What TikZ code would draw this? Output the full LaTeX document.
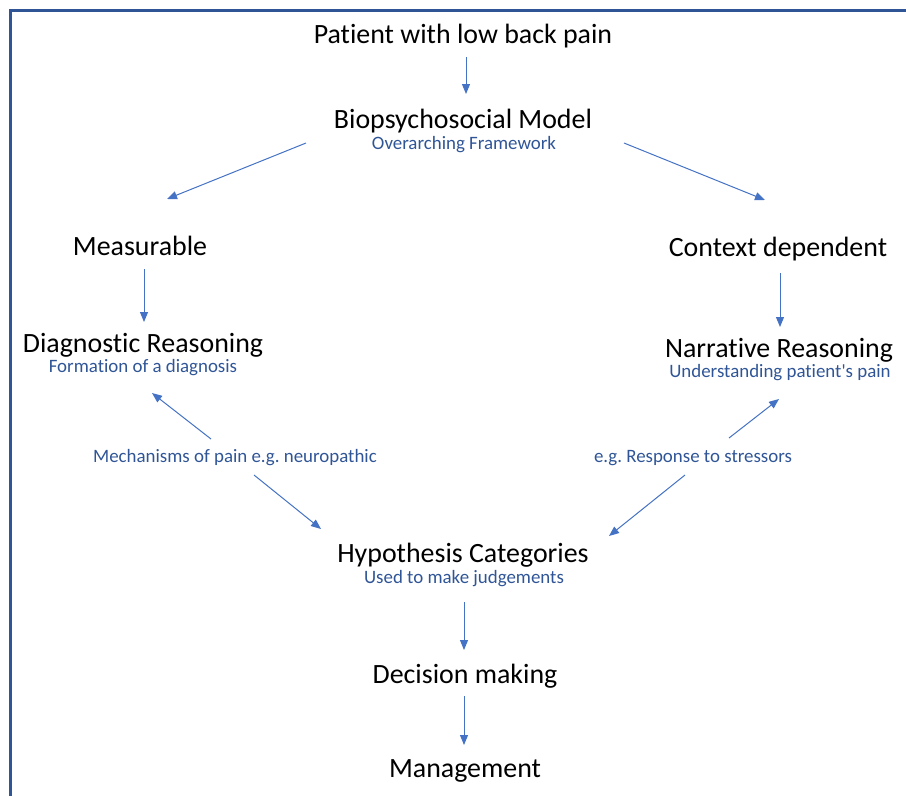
\documentclass[tikz,border=0pt]{standalone}
\usepackage{fontspec}
\newfontfamily\calib{Carlito}[Ligatures={NoCommon,NoRare}]
\usepackage{xcolor}
\usepackage{tikz}
\usetikzlibrary{arrows.meta}
\definecolor{frameblue}{RGB}{47, 85, 151}
\definecolor{subblue}{RGB}{47, 85, 151}
\definecolor{arrowblue}{RGB}{68, 114, 196}

\begin{document}
\begin{tikzpicture}[x=1pt, y=-1pt,
  mainlbl/.style={inner sep=0pt, anchor=base, font=\calib\fontsize{27.9}{33}\selectfont},
  sublbl/.style={inner sep=0pt, anchor=base, text=subblue, font=\calib\fontsize{18.9}{22}\selectfont},
  arr/.style={arrowblue, line width=1pt, -{Triangle[length=10pt,width=8pt]}}]
\useasboundingbox (0,0) rectangle (906,796);
\draw[frameblue, line width=3pt] (10.5,796) -- (10.5,10.5) -- (906,10.5);
% main labels
\node[mainlbl] (pat) at (463,43) {Patient with low back pain};
\node[mainlbl] (bps) at (463,128) {Biopsychosocial Model};
\node[sublbl] (over) at (464,149) {Overarching Framework};
\node[mainlbl] (meas) at (140,255) {Measurable};
\node[mainlbl] (ctx) at (778,256) {Context dependent};
\node[mainlbl] (diag) at (143,352) {Diagnostic Reasoning};
\node[sublbl] (form) at (143,372) {Formation of a diagnosis};
\node[mainlbl] (narr) at (779,357) {Narrative Reasoning};
\node[sublbl] (und) at (780,377) {Understanding patient's pain};
\node[sublbl] (mech) at (235,462) {Mechanisms of pain e.g.\ neuropathic};
\node[sublbl] (resp) at (693,462) {e.g.\ Response to stressors};
\node[mainlbl] (hyp) at (463,562) {Hypothesis Categories};
\node[sublbl] (used) at (464,583) {Used to make judgements};
\node[mainlbl] (dec) at (465,683) {Decision making};
\node[mainlbl] (mgmt) at (465,777) {Management};
% arrows
\draw[arr] ([shift={(3,14)}]pat.base) -- ([shift={(3,-34)}]bps.base);
\draw[arr] ([shift={(-157,15)}]bps.base) -- ([shift={(27,-56)}]meas.base);
\draw[arr] ([shift={(161,15)}]bps.base) -- ([shift={(-13,-56)}]ctx.base);
\draw[arr] ([shift={(4,14)}]meas.base) -- ([shift={(1,-30)}]diag.base);
\draw[arr] ([shift={(2,17)}]ctx.base) -- ([shift={(1,-30)}]narr.base);
\draw[arr] ([shift={(-24,-23)}]mech.base) -- ([shift={(9,21)}]form.base);
\draw[arr] ([shift={(19,13)}]mech.base) -- ([shift={(-142,-33)}]hyp.base);
\draw[arr] ([shift={(36,-24)}]resp.base) -- ([shift={(-1,22)}]und.base);
\draw[arr] ([shift={(-8,13)}]resp.base) -- ([shift={(146,-26)}]hyp.base);
\draw[arr] ([shift={(0,19)}]used.base) -- ([shift={(-1,-33)}]dec.base);
\draw[arr] ([shift={(-1,13)}]dec.base) -- ([shift={(-1,-32)}]mgmt.base);
\end{tikzpicture}
\end{document}
